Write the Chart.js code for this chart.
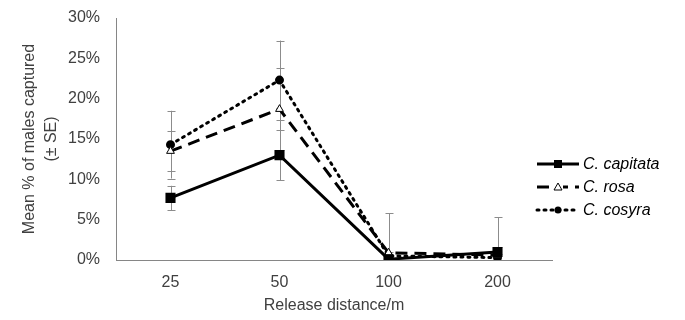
<!DOCTYPE html>
<html>
<head>
<meta charset="utf-8">
<script src="https://cdn.jsdelivr.net/npm/chart.js@4"></script>
<style>
  html, body { margin: 0; padding: 0; background: #fff; }
</style>
</head>
<body>
<canvas id="chart" width="685" height="320"></canvas>
<script>
let distances = ["25", "50", "100", "200"];
let yTicks = [0, 5, 10, 15, 20, 25, 30];

let capitata = [7.7, 13.0, 0.1, 1.0];
let capitataSE = [1.5, 3.1, 0.3, 4.3];
let rosa = [13.5, 18.7, 0.9, 0.6];
let rosaSE = [2.5, 5.1, 4.9, 1.0];
let cosyra = [14.3, 22.3, 0.5, 0.3];
let cosyraSE = [4.2, 4.9, 0.5, 0.5];

let textColor = "#404040";
let axisColor = "#868686";
let fontFamily = "'Liberation Sans', Arial, sans-serif";

// error bars, drawn behind the lines
let errorBars = {
  id: "errorBars",
  beforeDatasetsDraw(chart) {
    let ctx = chart.ctx;
    let y = chart.scales.y;
    ctx.save();
    ctx.strokeStyle = "#8c8c8c";
    ctx.lineWidth = 1;
    chart.data.datasets.forEach((ds, i) => {
      let meta = chart.getDatasetMeta(i);
      meta.data.forEach((pt, j) => {
        let v = ds.data[j];
        let se = ds.se[j];
        let top = y.getPixelForValue(v + se);
        let bot = y.getPixelForValue(Math.max(0, v - se));
        let x = Math.round(pt.x) + 0.5;
        ctx.beginPath();
        ctx.moveTo(x, top);
        ctx.lineTo(x, bot);
        ctx.moveTo(x - 4, Math.round(top) + 0.5);
        ctx.lineTo(x + 4, Math.round(top) + 0.5);
        if (v - se > 0) {
          ctx.moveTo(x - 4, Math.round(bot) + 0.5);
          ctx.lineTo(x + 4, Math.round(bot) + 0.5);
        }
        ctx.stroke();
      });
    });
    ctx.restore();
  },
};

// legend on the right with line + marker samples
let sideLegend = {
  id: "sideLegend",
  afterDraw(chart) {
    let ctx = chart.ctx;
    let x0 = 537;
    let x1 = 579;
    let startY = 164;
    let gap = 23;
    ctx.save();
    chart.data.datasets.forEach((ds, i) => {
      let yy = startY + i * gap;
      ctx.strokeStyle = "#000";
      ctx.lineWidth = 3;
      ctx.lineCap = ds.borderCapStyle || "butt";
      ctx.setLineDash(ds.borderDash || []);
      ctx.beginPath();
      ctx.moveTo(x0, yy);
      ctx.lineTo(x1, yy);
      ctx.stroke();
      ctx.setLineDash([]);
      let cx = (x0 + x1) / 2;
      ctx.fillStyle = "#000";
      ctx.lineWidth = 1;
      ctx.beginPath();
      if (ds.pointStyle === "rect") {
        ctx.rect(cx - 4, yy - 4, 8, 8);
        ctx.fill();
      } else if (ds.pointStyle === "triangle") {
        ctx.fillStyle = "#fff";
        ctx.fillRect(cx - 5, yy - 5, 10, 10);
        ctx.beginPath();
        ctx.moveTo(cx, yy - 4);
        ctx.lineTo(cx + 4, yy + 3);
        ctx.lineTo(cx - 4, yy + 3);
        ctx.closePath();
        ctx.stroke();
      } else {
        ctx.arc(cx, yy, 3.5, 0, Math.PI * 2);
        ctx.fill();
      }
      ctx.fillStyle = "#000";
      ctx.font = "italic 16px " + fontFamily;
      ctx.textBaseline = "middle";
      ctx.textAlign = "left";
      ctx.fillText(ds.label, x1 + 4, yy + 1);
    });
    ctx.restore();
  },
};

new Chart(document.getElementById("chart"), {
  type: "line",
  data: {
    labels: distances,
    datasets: [
      {
        label: "C. capitata",
        data: capitata,
        se: capitataSE,
        borderColor: "#000",
        borderWidth: 3,
        pointStyle: "rect",
        pointRadius: 5,
        pointBackgroundColor: "#000",
        pointBorderColor: "#000",
      },
      {
        label: "C. rosa",
        data: rosa,
        se: rosaSE,
        borderColor: "#000",
        borderWidth: 3,
        borderDash: [12, 7],
        pointStyle: "triangle",
        pointRadius: 4.5,
        pointBorderWidth: 1,
        pointBackgroundColor: "#fff",
        pointBorderColor: "#000",
      },
      {
        label: "C. cosyra",
        data: cosyra,
        se: cosyraSE,
        borderColor: "#000",
        borderWidth: 3,
        borderDash: [2, 5],
        borderCapStyle: "round",
        pointStyle: "circle",
        pointRadius: 3,
        pointBackgroundColor: "#000",
        pointBorderColor: "#000",
      },
    ],
  },
  options: {
    responsive: false,
    animation: false,
    layout: { padding: { top: 18, right: 133, bottom: 0, left: 19 } },
    plugins: {
      legend: { display: false },
      tooltip: { enabled: false },
    },
    scales: {
      x: {
        offset: true,
        grid: { display: false, drawTicks: false, offset: true },
        border: { color: axisColor, width: 1 },
        ticks: {
          color: textColor,
          font: { family: fontFamily, size: 16 },
          padding: 13,
          maxRotation: 0,
        },
        title: {
          display: true,
          text: "Release distance/m",
          color: textColor,
          font: { family: fontFamily, size: 16 },
          padding: { top: 0, bottom: 5 },
        },
        afterFit(axis) {
          axis.height = 60;
        },
      },
      y: {
        min: 0,
        max: 30,
        afterBuildTicks(axis) {
          axis.ticks = yTicks.map((v) => ({ value: v }));
        },
        grid: { display: false, drawTicks: false },
        border: { color: axisColor, width: 1 },
        ticks: {
          color: textColor,
          font: { family: fontFamily, size: 16 },
          padding: 16,
          callback: (v) => v + "%",
        },
        title: {
          display: true,
          text: ["Mean % of males captured", "(± SE)"],
          color: textColor,
          font: { family: fontFamily, size: 16, lineHeight: 1.35 },
          padding: { top: 0, bottom: 0 },
        },
        afterFit(axis) {
          axis.width = 97;
          axis.paddingTop = 0;
          axis.paddingBottom = 0;
        },
      },
    },
  },
  plugins: [errorBars, sideLegend],
});
</script>
</body>
</html>
